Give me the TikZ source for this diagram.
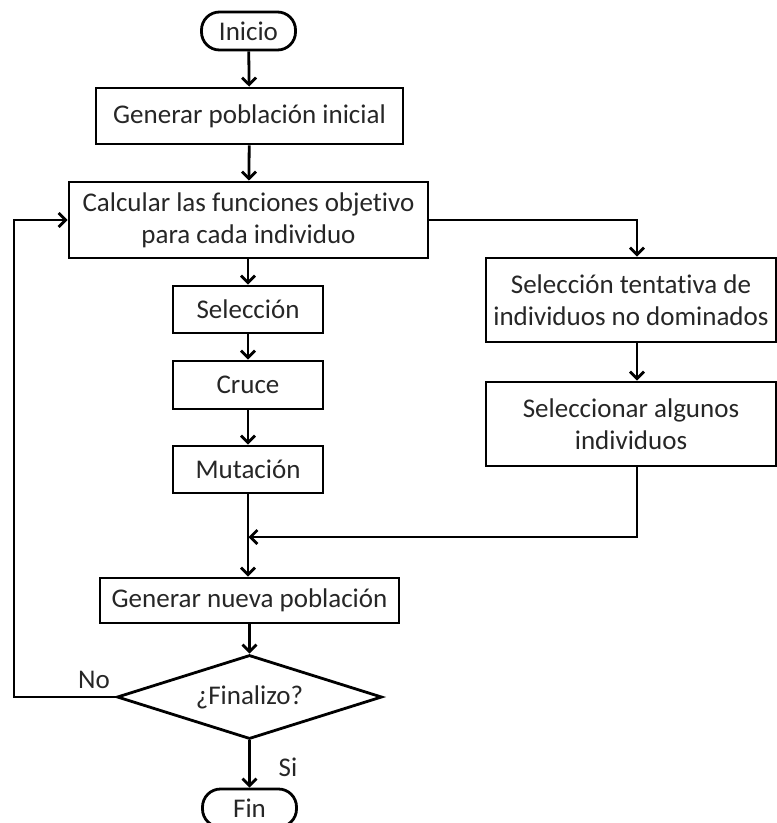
\documentclass[tikz,border=0pt]{standalone}
\usepackage{fontspec}
\setmainfont{Carlito}[Ligatures=NoCommon]
\usetikzlibrary{arrows.meta,shapes.geometric}
\begin{document}
\begin{tikzpicture}[x=1pt,y=-1pt,
  every node/.style={font=\fontsize{27}{32}\selectfont, text=black!85, inner sep=0pt, align=center},
  proc/.style={draw=black, line width=2.8pt, rectangle},
  term/.style={draw=black, line width=2.8pt, rectangle, rounded corners=18pt, minimum width=94pt, minimum height=38pt},
  decis/.style={draw=black, line width=2.8pt, diamond, aspect=3.2, minimum width=265pt, minimum height=84pt},
  conn/.style={line width=2.8pt, draw=black},
  arr/.style={conn, -{Straight Barb[length=7pt,width=14pt,line width=2.8pt]}},
  lbl/.style={font=\fontsize{27}{32}\selectfont, text=black!85}]
\useasboundingbox (0,0) rectangle (777,823);
\node[term] (inicio) at (248.5,31) {Inicio};
\node[proc, minimum width=307pt, minimum height=56pt] (gen) at (249.5,116) {Generar población inicial};
\node[proc, minimum width=359pt, minimum height=76pt] (calc) at (248.5,220) {Calcular las funciones objetivo\\para cada individuo};
\node[proc, minimum width=150pt, minimum height=47pt] (sel) at (248,309.5) {Selección};
\node[proc, minimum width=150pt, minimum height=48pt] (cruce) at (248,385) {Cruce};
\node[proc, minimum width=150pt, minimum height=47pt] (mut) at (248,469.5) {Mutación};
\node[proc, minimum width=290pt, minimum height=84pt] (tent) at (631,300) {Selección tentativa de\\individuos no dominados};
\node[proc, minimum width=290pt, minimum height=84pt] (alg) at (631,424) {Seleccionar algunos\\individuos};
\node[proc, minimum width=299pt, minimum height=45pt] (nueva) at (249.5,600.5) {Generar nueva población};
\node[decis] (dec) at (249.5,697) {¿Finalizo?};
\node[term] (fin) at (249.5,808) {Fin};
\node[lbl] (no) at (94,680) {No};
\node[lbl] (si) at (288,767) {Si};
\coordinate (tx) at (637,0);
\coordinate (mj) at (248.5,537);
\coordinate (lp) at (14,697);
\draw[arr] (inicio) -- (gen);
\draw[arr] (gen) -- (calc);
\draw[arr] (calc.south -| sel) -- (sel);
\draw[arr] (sel) -- (cruce);
\draw[arr] (cruce) -- (mut);
\draw[arr] (mut.south) -- (mut.south |- nueva.north);
\draw[arr] (calc.east) -| (tx |- tent.north);
\draw[arr] (tx |- tent.south) -- (tx |- alg.north);
\draw[arr] (tx |- alg.south) |- (mj);
\draw[arr] (nueva.south -| dec.north) -- (dec.north);
\draw[arr] (dec.south) -- (fin.north);
\draw[arr] (dec.west) -- (lp) |- (calc.west);
\end{tikzpicture}
\end{document}
